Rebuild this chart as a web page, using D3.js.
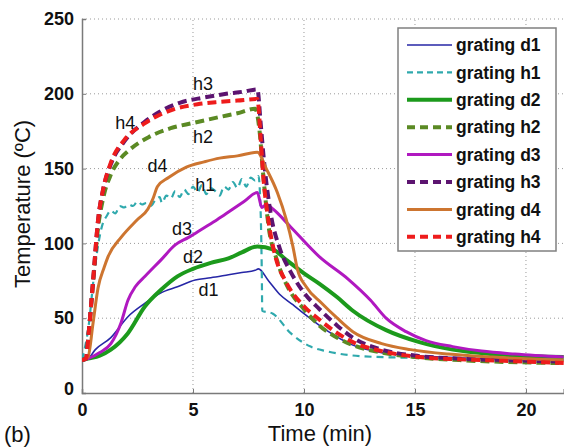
<!DOCTYPE html>
<html>
<head>
<meta charset="utf-8">
<script src="https://cdn.jsdelivr.net/npm/d3@7"></script>
<style>
  html, body { margin: 0; padding: 0; background: #fff; }
  svg { display: block; font-family: "Liberation Sans", Arial, sans-serif; }
</style>
</head>
<body>
<svg id="chart" width="564" height="448"></svg>
<script>
// Grating temperatures (°C) against time (min): [time, temperature]
const gratingD1 = [[0,22],[0.27,23],[0.6,29],[1.3,37],[2.07,51],[2.84,60],[3.56,67],[4.3,71],[5.1,75.5],[5.8,77],[6.6,79],[7.2,80.5],[7.8,82],[7.95,83],[8.4,75],[8.9,66],[9.5,59],[10,53],[11,42],[12.2,32],[13.5,27],[15,25],[17,23.5],[21.7,22]];
const gratingH1 = [[0,22],[0.3,45],[0.55,80],[0.8,105],[0.95,114],[1.1,118],[1.3,122],[1.5,120],[1.7,125],[1.9,124],[2.1,126],[2.3,125],[2.5,128],[2.7,126],[2.9,127],[3.1,125],[3.3,129],[3.5,131],[3.6,127],[3.8,132],[4.0,130],[4.2,135],[4.4,131],[4.6,136],[4.8,133],[5.0,138],[5.2,134],[5.4,139],[5.6,133],[5.8,137],[6.0,135],[6.2,132],[6.4,138],[6.6,136],[6.8,141],[7.0,137],[7.2,143],[7.4,138],[7.6,144],[7.8,142],[7.95,145],[8.05,120],[8.1,80],[8.12,55],[8.6,53],[9.4,40],[10.3,31],[11,28],[12.7,24.5],[15,23.5],[18,22.5],[21.7,22]];
const gratingD2 = [[0,22],[0.27,23],[0.8,25],[1.3,29],[2.07,40],[2.84,58],[3.56,69],[4.3,78],[5.0,83],[5.8,87],[6.6,90],[7.2,94],[7.9,98],[8.6,96],[9.2,89],[10,80],[10.7,73],[11.5,64],[12.2,55],[13.7,42],[15.2,34],[16.7,29],[18.5,26],[21.7,24]];
const gratingH2 = [[0,22],[0.18,23],[0.3,40],[0.5,74],[0.72,110],[0.95,130],[1.3,146],[1.7,156],[2.1,162],[3.0,171],[4.0,177],[5.0,180.5],[6.2,184.5],[7.0,187],[7.8,190],[8.0,175],[8.15,148],[8.4,112],[8.8,88],[9.3,70],[10,56],[10.7,45],[11.5,37],[12.2,32],[13.5,27],[15,24],[17,22],[21.7,20]];
const gratingD3 = [[0,22],[0.27,23],[0.8,27],[1.3,33],[1.76,47],[2.07,62],[2.4,71],[2.84,78],[3.56,89],[4.2,99],[4.8,104],[5.45,110],[6.1,116],[6.7,122],[7.3,128],[7.9,134],[8.1,124],[8.3,126],[8.6,123],[9.4,111],[10.7,91],[12,76],[13,62],[13.7,50],[14.6,41],[15.5,35],[16.7,31],[18,28],[19.5,26],[21.7,24]];
const gratingH3 = [[0,22],[0.18,23],[0.3,40],[0.5,75],[0.72,115],[0.95,136],[1.3,153],[1.9,168],[2.8,181],[3.5,188],[4.4,194],[5.5,197.5],[6.5,200],[7.3,201.5],[7.9,203],[8.05,180],[8.2,155],[8.5,120],[8.9,97],[9.4,81],[10,67],[10.7,56],[11.5,45],[12.2,37],[13.5,29],[15,25],[17,23],[19,22],[21.7,21]];
const gratingD4 = [[0,22],[0.27,24],[0.5,47],[0.72,70],[1.0,84],[1.17,91],[1.76,104],[2.5,116],[2.97,123],[3.2,130],[3.4,138],[3.9,144],[4.7,151],[5.5,154.5],[6.2,157],[7.0,158.5],[7.9,161],[8.3,150],[8.8,134],[9.2,116],[9.5,98],[9.7,83],[10.1,71],[10.8,60],[11.5,50],[12.2,41],[13.5,33],[14.8,29],[16.5,26],[18.5,24],[21.7,22]];
const gratingH4 = [[0,22],[0.18,23],[0.3,40],[0.5,75],[0.72,115],[0.95,136],[1.3,154],[1.9,169],[2.8,180],[4.2,190],[5.2,193],[6.1,194.5],[7.0,195.5],[7.9,196.5],[8.05,170],[8.15,148],[8.4,115],[8.7,92],[9.2,74],[10,58],[10.7,49],[11.5,40],[12.2,34],[13.5,28],[15.2,24],[17,22.5],[19,21.5],[21.7,20]];

const seriesNames = ["grating d1","grating h1","grating d2","grating h2","grating d3","grating h3","grating d4","grating h4"];
const seriesData = [gratingD1, gratingH1, gratingD2, gratingH2, gratingD3, gratingH3, gratingD4, gratingH4];
const seriesColors = ["#2626a6","#2fa9ad","#1c9a1c","#5b8a24","#b018c0","#5c1470","#cd7530","#ee1c1c"];
const seriesWidths = [1.6, 2.2, 4, 4, 3, 4, 3, 4];
const seriesDash = [null, "7,5", null, "9,5", null, "9,5", null, "9,5"];

const xTicks = [0, 5, 10, 15, 20];
const yTicks = [0, 50, 100, 150, 200, 250];

// Curve labels placed along the traces: [text, time, temperature]
const curveLabels = [["h3",5.45,207],["h4",1.95,181],["h2",5.45,171],["d4",3.4,152],["h1",5.55,139],["d3",4.5,110],["d2",5.0,91],["d1",5.7,69]];

const svg = d3.select("#chart");
const margin = {left: 82, top: 20, bottom: 393};
const x = d3.scaleLinear().domain([0, 21.7]).range([82, 563.7]);
const y = d3.scaleLinear().domain([0, 250]).range([393, 19]);

// dotted grid
const grid = svg.append("g");
grid.selectAll("line.gx").data(xTicks.filter(d => d > 0)).join("line")
  .attr("x1", d => x(d)).attr("x2", d => x(d)).attr("y1", y(0)).attr("y2", y(250))
  .attr("stroke", "#9a9a9a").attr("stroke-width", 1).attr("stroke-dasharray", "1,3");
grid.selectAll("line.gy").data(yTicks.filter(d => d > 0)).join("line")
  .attr("x1", x(0)).attr("x2", 564).attr("y1", d => y(d)).attr("y2", d => y(d))
  .attr("stroke", "#9a9a9a").attr("stroke-width", 1).attr("stroke-dasharray", "1,3");

// axes
const xAxis = svg.append("g").attr("transform", `translate(0,${y(0)})`)
  .call(d3.axisBottom(x).tickValues(xTicks).tickSize(-4).tickPadding(8));
const yAxis = svg.append("g").attr("transform", `translate(${x(0)},0)`)
  .call(d3.axisLeft(y).tickValues(yTicks).tickSize(-4).tickPadding(8));
[xAxis, yAxis].forEach(a => {
  a.select(".domain").attr("stroke", "#7a7a7a").attr("stroke-width", 1.5);
  a.selectAll(".tick line").attr("stroke", "#7a7a7a");
  a.selectAll(".tick text").attr("fill", "#111").style("font-size", "18px")
    .style("font-weight", "bold").style("font-family", "'Liberation Sans', Arial, sans-serif");
});
xAxis.selectAll(".tick text").attr("dy", "0.85em");
yAxis.selectAll(".tick text").filter(d => d === 0).attr("dy", "0.1em");

// traces
svg.append("clipPath").attr("id", "plotClip").append("rect")
  .attr("x", x(0)).attr("y", y(250) - 4).attr("width", 564 - x(0)).attr("height", y(0) - y(250) + 4);
const line = d3.line().x(d => x(d[0])).y(d => y(d[1])).curve(d3.curveMonotoneX);
const traces = svg.append("g").attr("clip-path", "url(#plotClip)");
seriesData.forEach((data, i) => {
  traces.append("path").datum(data).attr("d", line)
    .attr("fill", "none").attr("stroke", seriesColors[i]).attr("stroke-width", seriesWidths[i])
    .attr("stroke-dasharray", seriesDash[i]).attr("stroke-linejoin", "round");
});

// curve labels
svg.append("g").selectAll("text").data(curveLabels).join("text")
  .attr("x", d => x(d[1])).attr("y", d => y(d[2])).attr("text-anchor", "middle")
  .attr("dy", "0.35em").style("font-size", "18px").attr("fill", "#111").text(d => d[0]);

// legend
const lg = svg.append("g");
lg.append("rect").attr("x", 398).attr("y", 28).attr("width", 158).attr("height", 223)
  .attr("fill", "#fff").attr("stroke", "#808080").attr("stroke-width", 1.5);
seriesNames.forEach((name, i) => {
  const cy = 45 + i * 27.4;
  lg.append("line").attr("x1", 407).attr("x2", 452).attr("y1", cy).attr("y2", cy)
    .attr("stroke", seriesColors[i]).attr("stroke-width", seriesWidths[i])
    .attr("stroke-dasharray", seriesDash[i] ? (i === 1 ? "6,4" : "8,5") : null);
  lg.append("text").attr("x", 456).attr("y", cy).attr("dy", "0.35em")
    .style("font-size", "17.5px").style("font-weight", "bold").attr("fill", "#111").text(name);
});

// axis titles
svg.append("text").attr("x", 320).attr("y", 441).attr("text-anchor", "middle")
  .style("font-size", "22px").attr("fill", "#111").text("Time (min)");
svg.append("text").attr("transform", "translate(30,204) rotate(-90)").attr("text-anchor", "middle")
  .style("font-size", "22px").attr("fill", "#111").text("Temperature (ºC)");
svg.append("text").attr("x", 4).attr("y", 442)
  .style("font-size", "22px").attr("fill", "#111").text("(b)");
</script>
</body>
</html>
